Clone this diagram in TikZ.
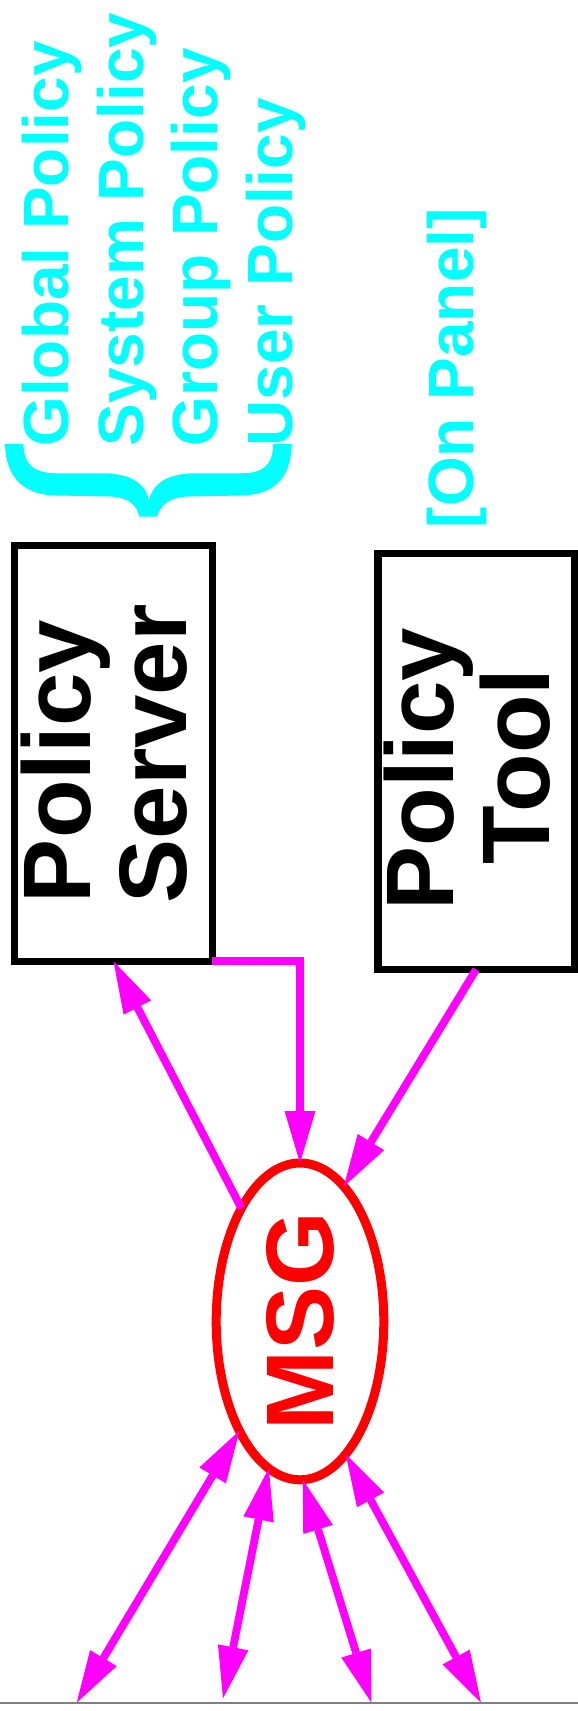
\documentclass[tikz,border=0pt]{standalone}
\usepackage{fontspec}
\setmainfont{Liberation Sans}
\usepackage{graphicx}
\usetikzlibrary{arrows.meta,shapes.geometric}
\definecolor{cy}{RGB}{0,255,255}
\definecolor{mg}{RGB}{255,0,255}
\definecolor{rd}{RGB}{255,0,0}
\definecolor{gr}{RGB}{128,128,128}
\tikzset{
  >={Triangle[length=52pt,width=31pt,line width=0pt]},
  pol/.style={rotate=90, anchor=base west, inner sep=0pt, text=cy, font=\fontsize{64}{70}\selectfont\bfseries},
  big/.style={rotate=90, anchor=base, inner sep=0pt, font=\fontsize{96}{100}\selectfont\bfseries},
  pbox/.style={draw=black, line width=7.4pt, rectangle, inner sep=0pt, outer sep=0pt},
  conn/.style={draw=mg, line width=7.8pt},
}
\begin{document}
\begin{tikzpicture}[x=1pt,y=-1pt]
\useasboundingbox[fill=white] (0,0) rectangle (578,1711);

% policy list
\node[pol] (gp) at (68.2,446.8) {Global Policy};
\node[pol] (sp) at (143.0,446.8) {System Policy};
\node[pol] (grp) at (217.8,446.8) {Group Policy};
\node[pol] (up) at (292.3,446.8) {User Policy};
\fill[cy] (5,444) -- (23.3,444) .. controls (24,466) and (35,473.3) .. (58,473.3)
  -- (105,473.3) .. controls (132,474) and (145,484) .. (149,500)
  .. controls (153,484) and (166,474) .. (193,473.3)
  -- (240,473.3) .. controls (263,473.3) and (272.5,466) .. (273.3,444)
  -- (291.7,444) .. controls (291,480) and (272,495.5) .. (240,495.5)
  -- (188,496.5) .. controls (170,497) and (160,505) .. (157.3,516.7)
  -- (139.3,516.7) .. controls (137,505) and (128,497) .. (110,496.5)
  -- (58,495.5) .. controls (26,495.5) and (6,480) .. (5,444) -- cycle;

\node[pol, anchor=base east] (op) at (473.7,208) {[On Panel]};

% boxes
\node[pbox, minimum width=197.6pt, minimum height=415.8pt] (ps) at (113.5,753.4) {};
\node[big] (ps1) at (90.3,761.6) {Policy};
\node[big] (ps2) at (186.9,753.9) {Server};

\node[pbox, minimum width=196.6pt, minimum height=415.8pt] (pt) at (476.1,761.6) {};
\node[big] (pt1) at (453.4,769.2) {Policy};
\node[big] (pt2) at (549.2,766.4) {Tool};

% MSG
\node[ellipse, draw=rd, line width=9pt, text=rd, inner sep=0pt, outer sep=0pt,
      minimum width=167.6pt, minimum height=316.8pt,
      font=\fontsize{96}{100}\selectfont\bfseries] (msg) at (300,1321.4) {\rotatebox{90}{MSG}};

% connectors
\draw[conn, <-] (ps.south) -- (msg);
\draw[conn, ->, line join=miter] (ps.south east) -| (msg.north);
\draw[conn, ->] (pt.south) -- (msg.72.6);

\coordinate (b1) at (76.7,1702.7);
\coordinate (b2) at (223,1698.3);
\coordinate (b3) at (371.5,1702.7);
\coordinate (b4) at (481,1702.7);
\draw[conn, <->] (msg.241.8) -- (b1);
\draw[conn, <->] (msg.258.6) -- (b2);
\draw[conn, <->] (msg.271) -- (b3);
\draw[conn, <->] (msg.289.6) -- (b4);

% bottom frame line
\draw[gr, line width=2pt] (0,1702.7) -- (578,1702.7);
\end{tikzpicture}
\end{document}
